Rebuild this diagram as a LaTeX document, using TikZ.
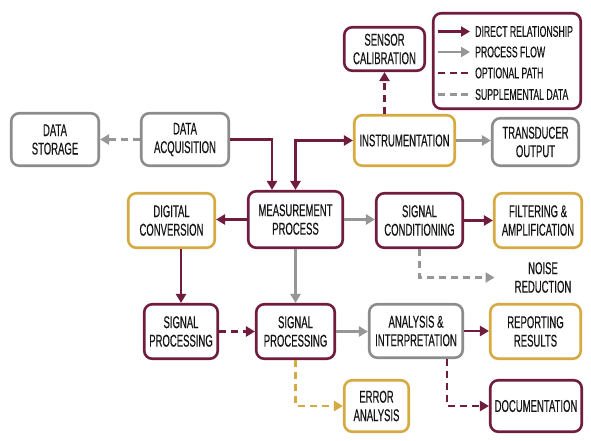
\documentclass[tikz,border=0pt]{standalone}
\usepackage{fontspec}
\setmainfont{Liberation Sans}[FakeStretch=0.56,FakeBold=0.35]
\usetikzlibrary{arrows.meta,calc}
\definecolor{mrn}{RGB}{112,28,62}
\definecolor{gld}{RGB}{214,170,66}
\definecolor{gryb}{RGB}{140,140,140}
\definecolor{grya}{RGB}{150,150,150}
\definecolor{txt}{RGB}{20,20,20}
\begin{document}
\begin{tikzpicture}[x=1pt,y=-1pt,
  box/.style={rounded corners=8pt,line width=2.6pt,fill=white,align=center,inner sep=0pt,
    font=\fontsize{17}{18.5}\selectfont,text=txt},
  mbox/.style={box,draw=mrn},
  ybox/.style={box,draw=gld},
  sbox/.style={box,draw=gryb},
  conn/.style={line width=2.8pt,-{Triangle[length=9pt,width=10pt]}},
  dirc/.style={conn,draw=mrn},
  proc/.style={conn,draw=grya},
  optc/.style={dirc,dash pattern=on 7pt off 5pt},
  supp/.style={proc,dash pattern=on 7pt off 5pt},
  gopt/.style={conn,draw=gld,dash pattern=on 7pt off 5pt},
  legtxt/.style={anchor=west,inner sep=0pt,font=\fontsize{15.5}{17}\selectfont,text=txt}
]
\path[fill=white] (0,0) rectangle (591,441);
\useasboundingbox (0,0) rectangle (591,441);

% boxes
\node[sbox,minimum width=87.5pt,minimum height=52.5pt] (ds) at (55,139.5) {DATA\\STORAGE};
\node[sbox,minimum width=87.5pt,minimum height=52.5pt] (da) at (185,139.5) {DATA\\ACQUISITION};
\node[mbox,minimum width=80.5pt,minimum height=43.5pt] (sc) at (384.5,49) {SENSOR\\CALIBRATION};
\node[ybox,minimum width=100.5pt,minimum height=50.5pt] (ins) at (404.5,140.5) {INSTRUMENTATION};
\node[sbox,minimum width=86.5pt,minimum height=47.5pt] (to) at (535.5,142) {TRANSDUCER\\OUTPUT};
\node[ybox,minimum width=86.5pt,minimum height=54.5pt] (dc) at (171.5,220.5) {DIGITAL\\CONVERSION};
\node[mbox,minimum width=94.5pt,minimum height=56.5pt] (mp) at (295.5,219.5) {MEASUREMENT\\PROCESS};
\node[mbox,minimum width=86.5pt,minimum height=54.5pt] (scd) at (419.5,220.5) {SIGNAL\\CONDITIONING};
\node[ybox,minimum width=87.5pt,minimum height=54.5pt] (fa) at (538,220.5) {FILTERING \&\\AMPLIFICATION};
\node[align=center,inner ysep=0pt,inner xsep=20pt,font=\fontsize{17}{18.5}\selectfont,text=txt] (nr) at (543,277.5) {NOISE\\REDUCTION};
\node[mbox,minimum width=73.5pt,minimum height=54.5pt] (spl) at (181,331.5) {SIGNAL\\PROCESSING};
\node[mbox,minimum width=78.5pt,minimum height=54.5pt] (spm) at (295.5,331.5) {SIGNAL\\PROCESSING};
\node[sbox,minimum width=93.5pt,minimum height=53.5pt] (ai) at (416,331) {ANALYSIS \&\\INTERPRETATION};
\node[ybox,minimum width=90.5pt,minimum height=54.5pt] (rr) at (535.5,331.5) {REPORTING\\RESULTS};
\node[ybox,minimum width=64.5pt,minimum height=51.5pt] (ea) at (376.5,406) {ERROR\\ANALYSIS};
\node[mbox,minimum width=91.5pt,minimum height=51.5pt] (doc) at (536,406) {DOCUMENTATION};

% legend
\node[mbox,minimum width=147.5pt,minimum height=95.5pt] (leg) at (507,61) {};
\coordinate (l1a) at (438,31.5); \coordinate (l1b) at (470,31.5);
\coordinate (l2a) at (438,52); \coordinate (l2b) at (470,52);
\coordinate (l3a) at (438,73); \coordinate (l3b) at (470,73);
\coordinate (l4a) at (438,94.5); \coordinate (l4b) at (470,94.5);
\draw[dirc] (l1a) -- (l1b);
\draw[proc] (l2a) -- (l2b);
\draw[line width=2.8pt,draw=mrn,dash pattern=on 7pt off 4.5pt] (l3a) -- (l3b);
\draw[line width=2.8pt,draw=grya,dash pattern=on 7pt off 4.5pt] (l4a) -- (l4b);
\node[legtxt] (t1) at (475,31.5) {DIRECT RELATIONSHIP};
\node[legtxt] (t2) at (475,52) {PROCESS FLOW};
\node[legtxt] (t3) at (475,73) {OPTIONAL PATH};
\node[legtxt] (t4) at (475,94.5) {SUPPLEMENTAL DATA};

% connectors
\draw[supp] (da.west) -- (ds.east);
\draw[dirc] (da.east) -| ([xshift=-23.5pt]mp.north);
\draw[dirc,{Triangle[length=9pt,width=10pt]}-{Triangle[length=9pt,width=10pt]}] (mp.north) |- (ins.west);
\draw[optc] (sc.south |- ins.north) -- (sc.south);
\draw[proc] (ins.east) -- (ins.east -| to.west);
\draw[dirc] (mp.west) -- (mp.west -| dc.east);
\draw[proc] (mp.east) -- (mp.east -| scd.west);
\draw[dirc] (scd.east) -- (scd.east -| fa.west);
\draw[supp] (scd.south) |- (nr.west);
\draw[dirc] (spl.north |- dc.south) -- (spl.north);
\draw[proc] (mp.south) -- (spm.north);
\draw[optc] (spl.east) -- (spl.east -| spm.west);
\draw[proc] (spm.east) -- (spm.east -| ai.west);
\draw[dirc] (ai.east) -- (ai.east -| rr.west);
\draw[gopt] (spm.south) |- (ea.west);
\draw[optc] ([xshift=31pt]ai.south) |- (doc.west);
\end{tikzpicture}
\end{document}
